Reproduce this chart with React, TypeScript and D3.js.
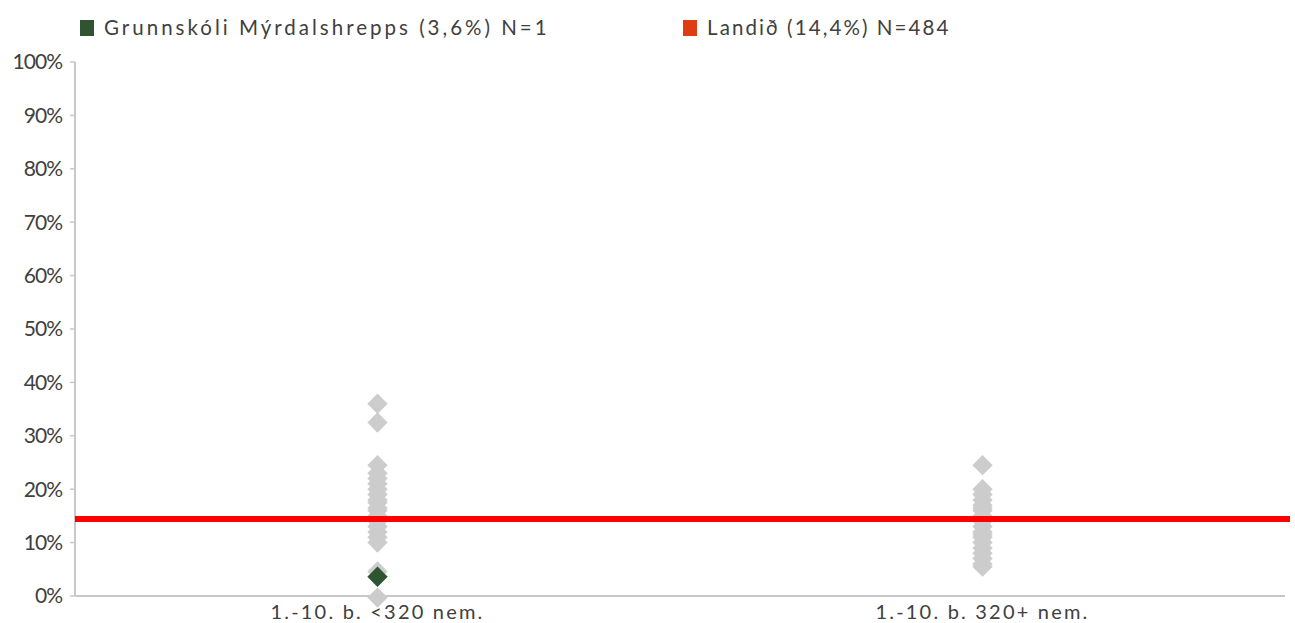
import React from "react";
import * as d3 from "d3";

const categories = ["1.-10. b. <320 nem.", "1.-10. b. 320+ nem."];
const groupSmall = [36, 32.5, 24.5, 23, 22, 21, 20, 19, 18, 17.5, 16.5, 16, 15, 14.5, 14, 13, 12, 11, 10, 4.6, -0.3];
const groupLarge = [24.5, 20, 19, 18, 17, 16.5, 16, 15, 14.5, 14, 13, 12, 11.5, 11, 10, 9, 8, 7, 6, 5.5];
const schoolValue = 3.6;
const schoolCategory = 0;
const nationalAvg = 14.4;
const yTicks = [0, 10, 20, 30, 40, 50, 60, 70, 80, 90, 100];
const legendItems = [
  { label: "Grunnskóli Mýrdalshrepps (3,6%) N=1", color: "#2f5530", spacing: 3.0 },
  { label: "Landið (14,4%) N=484", color: "#e03c12", spacing: 2.1 },
];

export default function App() {
  const W = 1295, H = 623;
  const left = 75, right = 1285, top = 62, bottom = 596;
  const x = d3.scaleBand().domain(categories).range([left, right]);
  const y = d3.scaleLinear().domain([0, 100]).range([bottom, top]);
  const diamond = d3.symbol().type(d3.symbolDiamond2).size(2 * 11.5 * 11.5)();
  const font = "Lato, 'Open Sans', sans-serif";
  const cx = (i: number) => (x(categories[i]) as number) + x.bandwidth() / 2;
  const groups = [groupSmall, groupLarge];
  return (
    <svg width={W} height={H} style={{ position: "absolute", left: 0, top: 0 }}>
      <rect width={W} height={H} fill="#fff" />
      {legendItems.map((it, i) => {
        const lx = i === 0 ? 80 : 683;
        return (
          <g key={i}>
            <rect x={lx} y={20} width={14} height={16} fill={it.color} />
            <text x={lx + 24} y={35} fontFamily={font} fontSize={20.5} fill="#404040" letterSpacing={it.spacing}>
              {it.label}
            </text>
          </g>
        );
      })}
      <line x1={left} x2={left} y1={top} y2={bottom} stroke="#c8c8c8" strokeWidth={2} />
      <line x1={left} x2={right} y1={bottom} y2={bottom} stroke="#c8c8c8" strokeWidth={2} />
      {yTicks.map((t) => (
        <g key={t}>
          <line x1={left - 5} x2={left} y1={y(t)} y2={y(t)} stroke="#c8c8c8" strokeWidth={1.5} />
          <text x={left - 13} y={y(t)} dy="0.35em" textAnchor="end" fontFamily={font} fontSize={21} fill="#404040" letterSpacing={-1}>
            {t}%
          </text>
        </g>
      ))}
      {categories.map((c, i) => (
        <text key={c} x={cx(i)} y={619} textAnchor="middle" fontFamily={font} fontSize={20} fill="#404040" letterSpacing={2.2}>
          {c}
        </text>
      ))}
      {groups.map((g, gi) =>
        g.map((v, j) => (
          <path key={gi + "-" + j} d={diamond} transform={`translate(${cx(gi)},${y(v)})`} fill="#cccccc" />
        ))
      )}
      <line x1={left} x2={1290} y1={y(nationalAvg)} y2={y(nationalAvg)} stroke="#ff0000" strokeWidth={6} />
      <path d={diamond} transform={`translate(${cx(schoolCategory)},${y(schoolValue)})`} fill="#2f5530" />
    </svg>
  );
}
